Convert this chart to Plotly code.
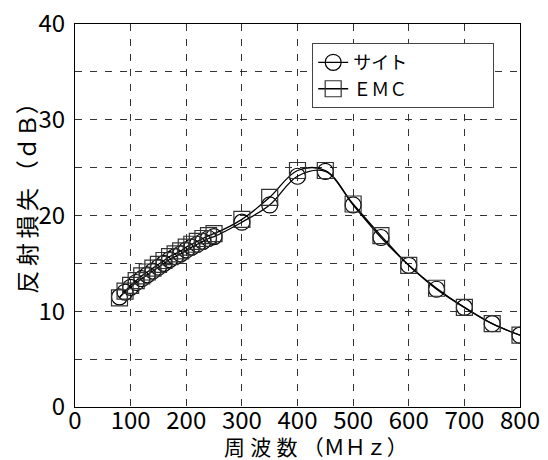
import plotly.graph_objects as go

freq = [80, 90, 100, 110, 120, 130, 140, 150, 160, 170, 180, 190, 200, 210, 220, 230, 240, 250,
        300, 350, 400, 450, 500, 550, 600, 650, 700, 750, 800]
site = [11.5, 12.0, 12.5, 13.0, 13.4, 13.8, 14.2, 14.6, 15.0, 15.4, 15.7, 16.0, 16.4, 16.7, 17.0, 17.3, 17.6, 17.8,
        19.3, 21.1, 24.1, 24.6, 21.1, 17.7, 14.8, 12.3, 10.4, 8.7, 7.5]
emc = [11.4, 12.1, 12.7, 13.2, 13.7, 14.1, 14.5, 14.9, 15.3, 15.7, 16.0, 16.3, 16.7, 17.0, 17.3, 17.6, 17.9, 18.1,
       19.6, 21.9, 24.7, 24.7, 21.2, 17.9, 14.8, 12.4, 10.4, 8.7, 7.5]

x_ticks = [0, 100, 200, 300, 400, 500, 600, 700, 800]
y_ticks = [0, 5, 10, 15, 20, 25, 30, 35, 40]
y_text = ["0", "", "10", "", "20", "", "30", "", "40"]

fig = go.Figure()
fig.add_trace(go.Scatter(
    x=freq, y=site, name="サイト\u3000\u3000\u3000\u3000\u2002", mode="lines+markers",
    line=dict(color="black", width=1.3, shape="spline", smoothing=1),
    marker=dict(symbol="circle-open", size=16, color="black", line=dict(width=1.2)),
))
fig.add_trace(go.Scatter(
    x=freq, y=emc, name="ＥＭＣ", mode="lines+markers",
    line=dict(color="black", width=1.3, shape="spline", smoothing=1),
    marker=dict(symbol="square-open", size=16, color="#333", line=dict(width=1.2)),
))

axis_common = dict(
    showline=True, linecolor="black", linewidth=1, mirror=True,
    showgrid=True, gridcolor="#333", gridwidth=1, griddash="7px,8px",
    zeroline=False, ticks="", automargin=False, ticklabeloverflow="allow",
    tickfont=dict(family="Noto Sans CJK JP", size=24, color="black"),
)
fig.update_xaxes(range=[0, 800], tickvals=x_ticks, ticktext=[str(v) for v in x_ticks],
                 ticklabelstandoff=-8, **axis_common)
fig.update_yaxes(range=[0, 40], tickvals=y_ticks, ticktext=y_text,
                 ticklabelstandoff=4, **axis_common)

fig.add_annotation(text="周\u2005波\u2005数\u2005（ＭＨｚ）", xref="paper", yref="paper", x=0.542, y=-0.102,
                   xanchor="center", yanchor="middle", showarrow=False,
                   font=dict(family="Noto Sans CJK JP", size=21, color="black"))
fig.add_annotation(text="反\u2009射\u2009損\u2009失\u2009（ｄＢ）", xref="paper", yref="paper", x=-0.112, y=0.56,
                   xanchor="center", yanchor="middle", textangle=-90, showarrow=False,
                   font=dict(family="Noto Sans CJK JP", size=23, color="black"))

# page body has an 8px default margin, so the figure is sized to sit inside the 548x460 window
fig.update_layout(
    width=540, height=452,
    margin=dict(l=67, r=28, t=16, b=53),
    paper_bgcolor="white", plot_bgcolor="white",
    showlegend=True,
    legend=dict(x=0.533, y=0.95, xanchor="left", yanchor="top",
                bgcolor="white", bordercolor="#444", borderwidth=1,
                font=dict(family="Noto Sans CJK JP", size=18, color="black"),
                tracegroupgap=0, itemwidth=30),
)

fig.write_html("out.html")
